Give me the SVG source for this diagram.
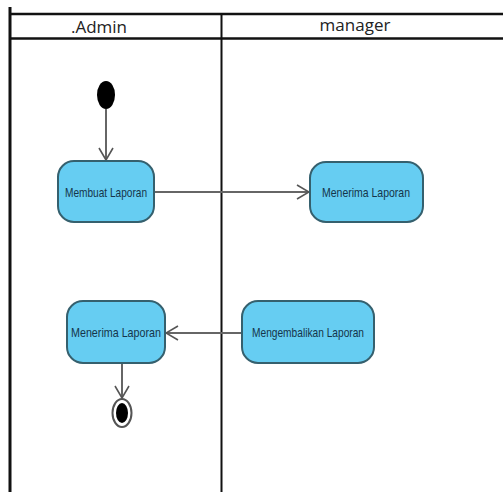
<svg xmlns="http://www.w3.org/2000/svg" width="503" height="492" viewBox="0 0 503 492">
<defs>
<style>
.lane{stroke:#111;fill:none}
.hdr{font-family:"Open Sans","Liberation Sans",sans-serif;font-size:17px;fill:#222;text-anchor:middle}
.act rect{fill:#66cdf2;stroke:#35606e;stroke-width:2}
.act text{font-family:"Liberation Sans",Arial,sans-serif;font-size:13px;fill:#15354a;text-anchor:middle}
.conn{stroke:#666;stroke-width:2;fill:none}
</style>
<marker id="arr" viewBox="0 0 14 16" refX="13" refY="8" markerWidth="14" markerHeight="16" markerUnits="userSpaceOnUse" orient="auto">
<path d="M1,1 L13,8 L1,15" fill="none" stroke="#555" stroke-width="1.6"/>
</marker>
</defs>
<rect width="503" height="492" fill="#fff"/>
<g id="swimlanes">
<line class="lane" x1="10" y1="7" x2="10" y2="492" stroke-width="3"/>
<line class="lane" x1="9" y1="14" x2="503" y2="14" stroke-width="2.5"/>
<line class="lane" x1="9" y1="38.5" x2="503" y2="38.5" stroke-width="2.5"/>
<line class="lane" x1="221.5" y1="14" x2="221.5" y2="492" stroke-width="2"/>
<text class="hdr" x="99" y="33">.Admin</text>
<text class="hdr" x="355" y="31">manager</text>
</g>
<g id="connectors">
<line class="conn" x1="106" y1="109" x2="106" y2="160" marker-end="url(#arr)"/>
<line class="conn" x1="154" y1="192" x2="309" y2="192" marker-end="url(#arr)"/>
<line class="conn" x1="242" y1="333" x2="166" y2="333" marker-end="url(#arr)"/>
<line class="conn" x1="122" y1="363" x2="122" y2="398" marker-end="url(#arr)"/>
</g>
<g id="start">
<ellipse cx="106" cy="95" rx="9" ry="14" fill="#000"/>
</g>
<g id="membuat" class="act">
<rect x="58" y="161" width="96" height="61" rx="16"/>
<text x="106" y="197" textLength="82" lengthAdjust="spacingAndGlyphs">Membuat Laporan</text>
</g>
<g id="menerima-manager" class="act">
<rect x="310" y="162" width="113" height="60" rx="16"/>
<text x="366" y="197" textLength="88" lengthAdjust="spacingAndGlyphs">Menerima Laporan</text>
</g>
<g id="mengembalikan" class="act">
<rect x="242" y="301" width="132" height="62" rx="16"/>
<text x="308" y="337" textLength="112" lengthAdjust="spacingAndGlyphs">Mengembalikan Laporan</text>
</g>
<g id="menerima-admin" class="act">
<rect x="67" y="301" width="98" height="62" rx="16"/>
<text x="116" y="337" textLength="90" lengthAdjust="spacingAndGlyphs">Menerima Laporan</text>
</g>
<g id="end">
<ellipse cx="122" cy="413" rx="9.5" ry="14" fill="#fff" stroke="#555" stroke-width="2"/>
<ellipse cx="122" cy="413" rx="6" ry="10" fill="#000"/>
</g>
</svg>
